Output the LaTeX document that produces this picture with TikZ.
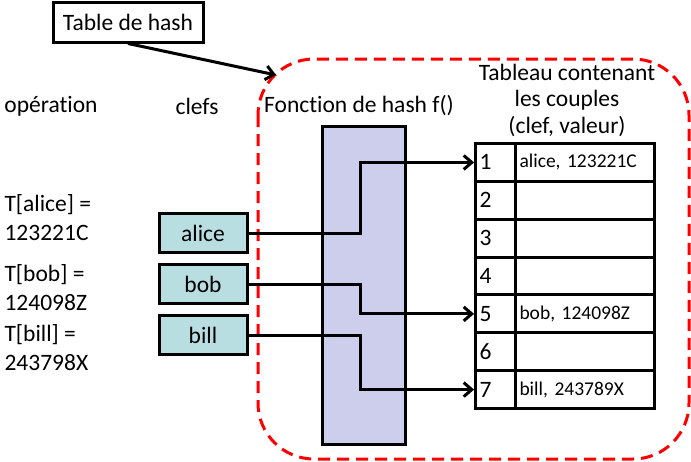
\documentclass[tikz,border=0pt]{standalone}
\usepackage{fontspec}
\setmainfont{Carlito}[Ligatures=NoCommon, RawFeature={-liga}]
\usetikzlibrary{arrows.meta}

\definecolor{hashfill}{RGB}{205,205,236}
\definecolor{keyfill}{RGB}{184,222,226}

\begin{document}
\begin{tikzpicture}[x=1pt,y=-1pt,
		every node/.style={font=\fontsize{23.5}{29}\selectfont},
		keybox/.style={draw, line width=3pt, fill=keyfill, minimum width=88pt, minimum height=39pt, inner sep=0pt},
		numcell/.style={draw, line width=3pt, anchor=north west, minimum height=37.86pt, text width=32pt, inner xsep=4pt, inner ysep=0pt, align=left},
		valcell/.style={draw, line width=3pt, anchor=north west, minimum height=37.86pt, text width=131pt, inner xsep=4pt, inner ysep=0pt, align=left, font=\fontsize{19.5}{23}\selectfont},
		link/.style={line width=3pt, -{Straight Barb[length=8pt,width=14pt]}}]
		\useasboundingbox (0,0) rectangle (691,461);
		% cadre de la table
		\draw[red, line width=3pt, dash pattern=on 12pt off 7pt, rounded corners=56pt] (258,59) rectangle (689,459);
		\node[draw, line width=3pt, minimum width=150pt, minimum height=40pt] (tdh) at (128,22) {Table de hash};
		\coordinate (tdhend) at (276,75);
		\draw[link] (tdh.south) -- (tdhend);
		
		\node (op) at (51,106) {opération};
		\node (clefs) at (197,106) {clefs};
		\node (fn) at (359,106) {Fonction de hash f()};
		\node[align=center, font=\fontsize{23.5}{26.5}\selectfont] (tab) at (567,100) {Tableau contenant\\les couples\\(clef, valeur)};
		
		\node[align=left, anchor=west] (op1) at (1,218) {T[alice] =\\123221C};
		\node[align=left, anchor=west] (op2) at (1,288) {T[bob] =\\124098Z};
		\node[align=left, anchor=west] (op3) at (1,348) {T[bill] =\\243798X};
		
		\fill[hashfill] (322,126) rectangle (405,444);
		\draw[line width=3pt] (322,126) rectangle (405,444);
		\coordinate (mid) at (360,0);
		
		\node[keybox] (alice) at (203,233) {alice};
		\node[keybox] (bob) at (203,284) {bob};
		\node[keybox] (bill) at (203,335) {bill};
		
		\foreach \i/\v in {1/{alice, 123221C},2/{},3/{},4/{},5/{bob, 124098Z},6/{},7/{bill, 243789X}} {
			\node[numcell] (n\i) at (474,{142+(\i-1)*37.86}) {\i};
			\node[valcell] (v\i) at (514,{142+(\i-1)*37.86}) {\mbox{\v}};
		}
		
		\draw[link] (alice.east) -- (alice.east -| mid) |- (n1.west);
		\draw[link] (bob.east) -- (bob.east -| mid) |- (n5.west);
		\draw[link] (bill.east) -- (bill.east -| mid) |- (n7.west);
	\end{tikzpicture}
\end{document}
